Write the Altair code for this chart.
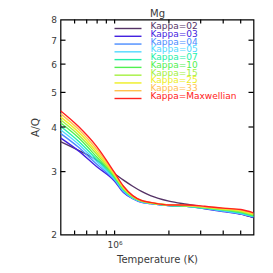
import altair as alt
import pandas as pd

# ---- data ----
temps = [5.01e5, 6.31e5, 7.94e5, 1.00e6, 1.12e6, 1.26e6, 1.41e6,
         1.58e6, 2.00e6, 2.51e6, 3.16e6, 3.98e6, 5.01e6, 5.89e6]

series_names = ["Kappa=02", "Kappa=03", "Kappa=04", "Kappa=05", "Kappa=07",
                "Kappa=10", "Kappa=15", "Kappa=25", "Kappa=33", "Kappa=Maxwellian"]

aq_k02 = [3.64, 3.44, 3.23, 2.96, 2.84, 2.73, 2.64, 2.57, 2.48, 2.43, 2.385, 2.34, 2.28, 2.23]
aq_k03 = [3.73, 3.43, 3.10, 2.82, 2.62, 2.52, 2.46, 2.44, 2.41, 2.40, 2.36, 2.32, 2.28, 2.23]
aq_k04 = [3.84, 3.51, 3.15, 2.84, 2.635, 2.525, 2.465, 2.44, 2.41, 2.40, 2.365, 2.325, 2.285, 2.24]
aq_k05 = [3.93, 3.58, 3.20, 2.86, 2.65, 2.53, 2.47, 2.445, 2.41, 2.40, 2.37, 2.33, 2.29, 2.245]
aq_k07 = [4.02, 3.65, 3.25, 2.88, 2.67, 2.54, 2.475, 2.45, 2.41, 2.40, 2.37, 2.34, 2.30, 2.25]
aq_k10 = [4.11, 3.73, 3.30, 2.90, 2.68, 2.545, 2.48, 2.45, 2.415, 2.405, 2.38, 2.35, 2.31, 2.26]
aq_k15 = [4.19, 3.80, 3.36, 2.92, 2.69, 2.55, 2.48, 2.45, 2.42, 2.41, 2.38, 2.35, 2.32, 2.27]
aq_k25 = [4.27, 3.87, 3.41, 2.94, 2.70, 2.56, 2.485, 2.455, 2.42, 2.41, 2.39, 2.36, 2.33, 2.28]
aq_k33 = [4.36, 3.94, 3.47, 2.96, 2.72, 2.565, 2.49, 2.46, 2.42, 2.41, 2.39, 2.37, 2.34, 2.29]
aq_max = [4.44, 4.01, 3.53, 2.98, 2.73, 2.57, 2.49, 2.46, 2.42, 2.42, 2.40, 2.37, 2.35, 2.30]

series_colors = ["#553366", "#4422e0", "#4a8cff", "#50d8ff", "#22f0a8",
                 "#50f050", "#a4f040", "#eeee22", "#ffc050", "#ff2020"]

x_tick_values = [6e5, 7e5, 8e5, 9e5, 1e6, 2e6, 3e6, 4e6, 5e6]
y_label_values = [2, 3, 4, 5, 6, 7, 8]
y_tick_values = [3, 4, 5, 6, 7]

# ---- tables ----
all_vals = [aq_k02, aq_k03, aq_k04, aq_k05, aq_k07, aq_k10, aq_k15, aq_k25, aq_k33, aq_max]
rows = []
for name, vals in zip(series_names, all_vals):
    for t, v in zip(temps, vals):
        rows.append({"T": t, "AQ": v, "series": name})
df = pd.DataFrame(rows)
leg = pd.DataFrame({"series": series_names})
xt_df = pd.DataFrame({"t": x_tick_values})
yt_df = pd.DataFrame({"v": y_tick_values})

W, H = 193, 215
XT, YT = 4, 5          # tick lengths
FONT = "DejaVu Sans"
TXT = "#3a3a3a"

xs = alt.Scale(type="log", domain=[10 ** 5.7, 10 ** 6.77], nice=False)
ys = alt.Scale(type="log", domain=[2, 8], nice=False)
cs = alt.Scale(domain=series_names, range=series_colors)

base = alt.Chart(df)

lines = base.mark_line(strokeWidth=1.4, interpolate="monotone", clip=True).encode(
    x=alt.X("T:Q", scale=xs, axis=alt.Axis(
        values=[1e6], labelExpr="'10⁶'", ticks=False, domain=False, grid=False,
        title="Temperature (K)", labelFont=FONT, labelFontSize=9, labelColor=TXT,
        labelPadding=6, titleFont=FONT, titleFontSize=10, titleFontWeight="normal",
        titleColor=TXT, titlePadding=5)),
    y=alt.Y("AQ:Q", scale=ys, axis=alt.Axis(
        values=y_label_values, format="d", ticks=False, domain=False, grid=False,
        title="A/Q", labelFont=FONT, labelFontSize=9, labelColor=TXT, labelPadding=4,
        titleFont=FONT, titleFontSize=10.5, titleFontWeight="normal", titleColor=TXT,
        titlePadding=10)),
    color=alt.Color("series:N", scale=cs, legend=None),
)

# inward tick marks on all four edges, placed by the shared scales
tick_style = dict(color="#000", strokeWidth=1.2)
xt_bottom = alt.Chart(xt_df).mark_rule(**tick_style).encode(
    x=alt.X("t:Q", scale=xs, axis=None), y=alt.value(H - XT), y2=alt.value(H))
xt_top = alt.Chart(xt_df).mark_rule(**tick_style).encode(
    x=alt.X("t:Q", scale=xs, axis=None), y=alt.value(0), y2=alt.value(XT))
yt_left = alt.Chart(yt_df).mark_rule(**tick_style).encode(
    y=alt.Y("v:Q", scale=ys, axis=None), x=alt.value(0), x2=alt.value(YT))
yt_right = alt.Chart(yt_df).mark_rule(**tick_style).encode(
    y=alt.Y("v:Q", scale=ys, axis=None), x=alt.value(W - YT), x2=alt.value(W))

# chart title "Mg" carried by a top axis
top_title = base.mark_line(opacity=0).encode(
    x=alt.X("T:Q", scale=xs, axis=alt.Axis(
        orient="top", ticks=False, labels=False, domain=False, grid=False,
        title="Mg", titleFont=FONT, titleFontSize=10, titleFontWeight="normal",
        titleColor=TXT, titlePadding=3, titleBaseline="alphabetic")),
    y=alt.Y("AQ:Q", scale=ys, axis=None),
    detail="series:N",
)

leg_y = alt.Y("series:N", scale=alt.Scale(type="point", domain=series_names,
                                         range=[9, 79], padding=0), axis=None)

leg_rules = alt.Chart(leg).mark_rule(strokeWidth=1.4).encode(
    x=alt.value(54), x2=alt.value(81), y=leg_y,
    color=alt.Color("series:N", scale=cs, legend=None),
)
leg_text = alt.Chart(leg).mark_text(align="left", baseline="alphabetic", fontSize=9,
                                    font=FONT, dy=0.5).encode(
    x=alt.value(90), y=leg_y, text="series:N",
    color=alt.Color("series:N", scale=cs, legend=None),
)

chart = alt.layer(lines, xt_bottom, xt_top, yt_left, yt_right, top_title,
                  leg_rules, leg_text).resolve_scale(
    y="independent"
).resolve_axis(
    x="independent", y="independent"
).properties(
    width=W, height=H,
    autosize=alt.AutoSizeParams(type="none"),
    padding={"left": 52.5, "top": 11.5, "right": 10, "bottom": 31},
).configure_view(stroke="#000", strokeWidth=1.2)

chart.save("out.html", embed_options={"renderer": "svg", "actions": False})
